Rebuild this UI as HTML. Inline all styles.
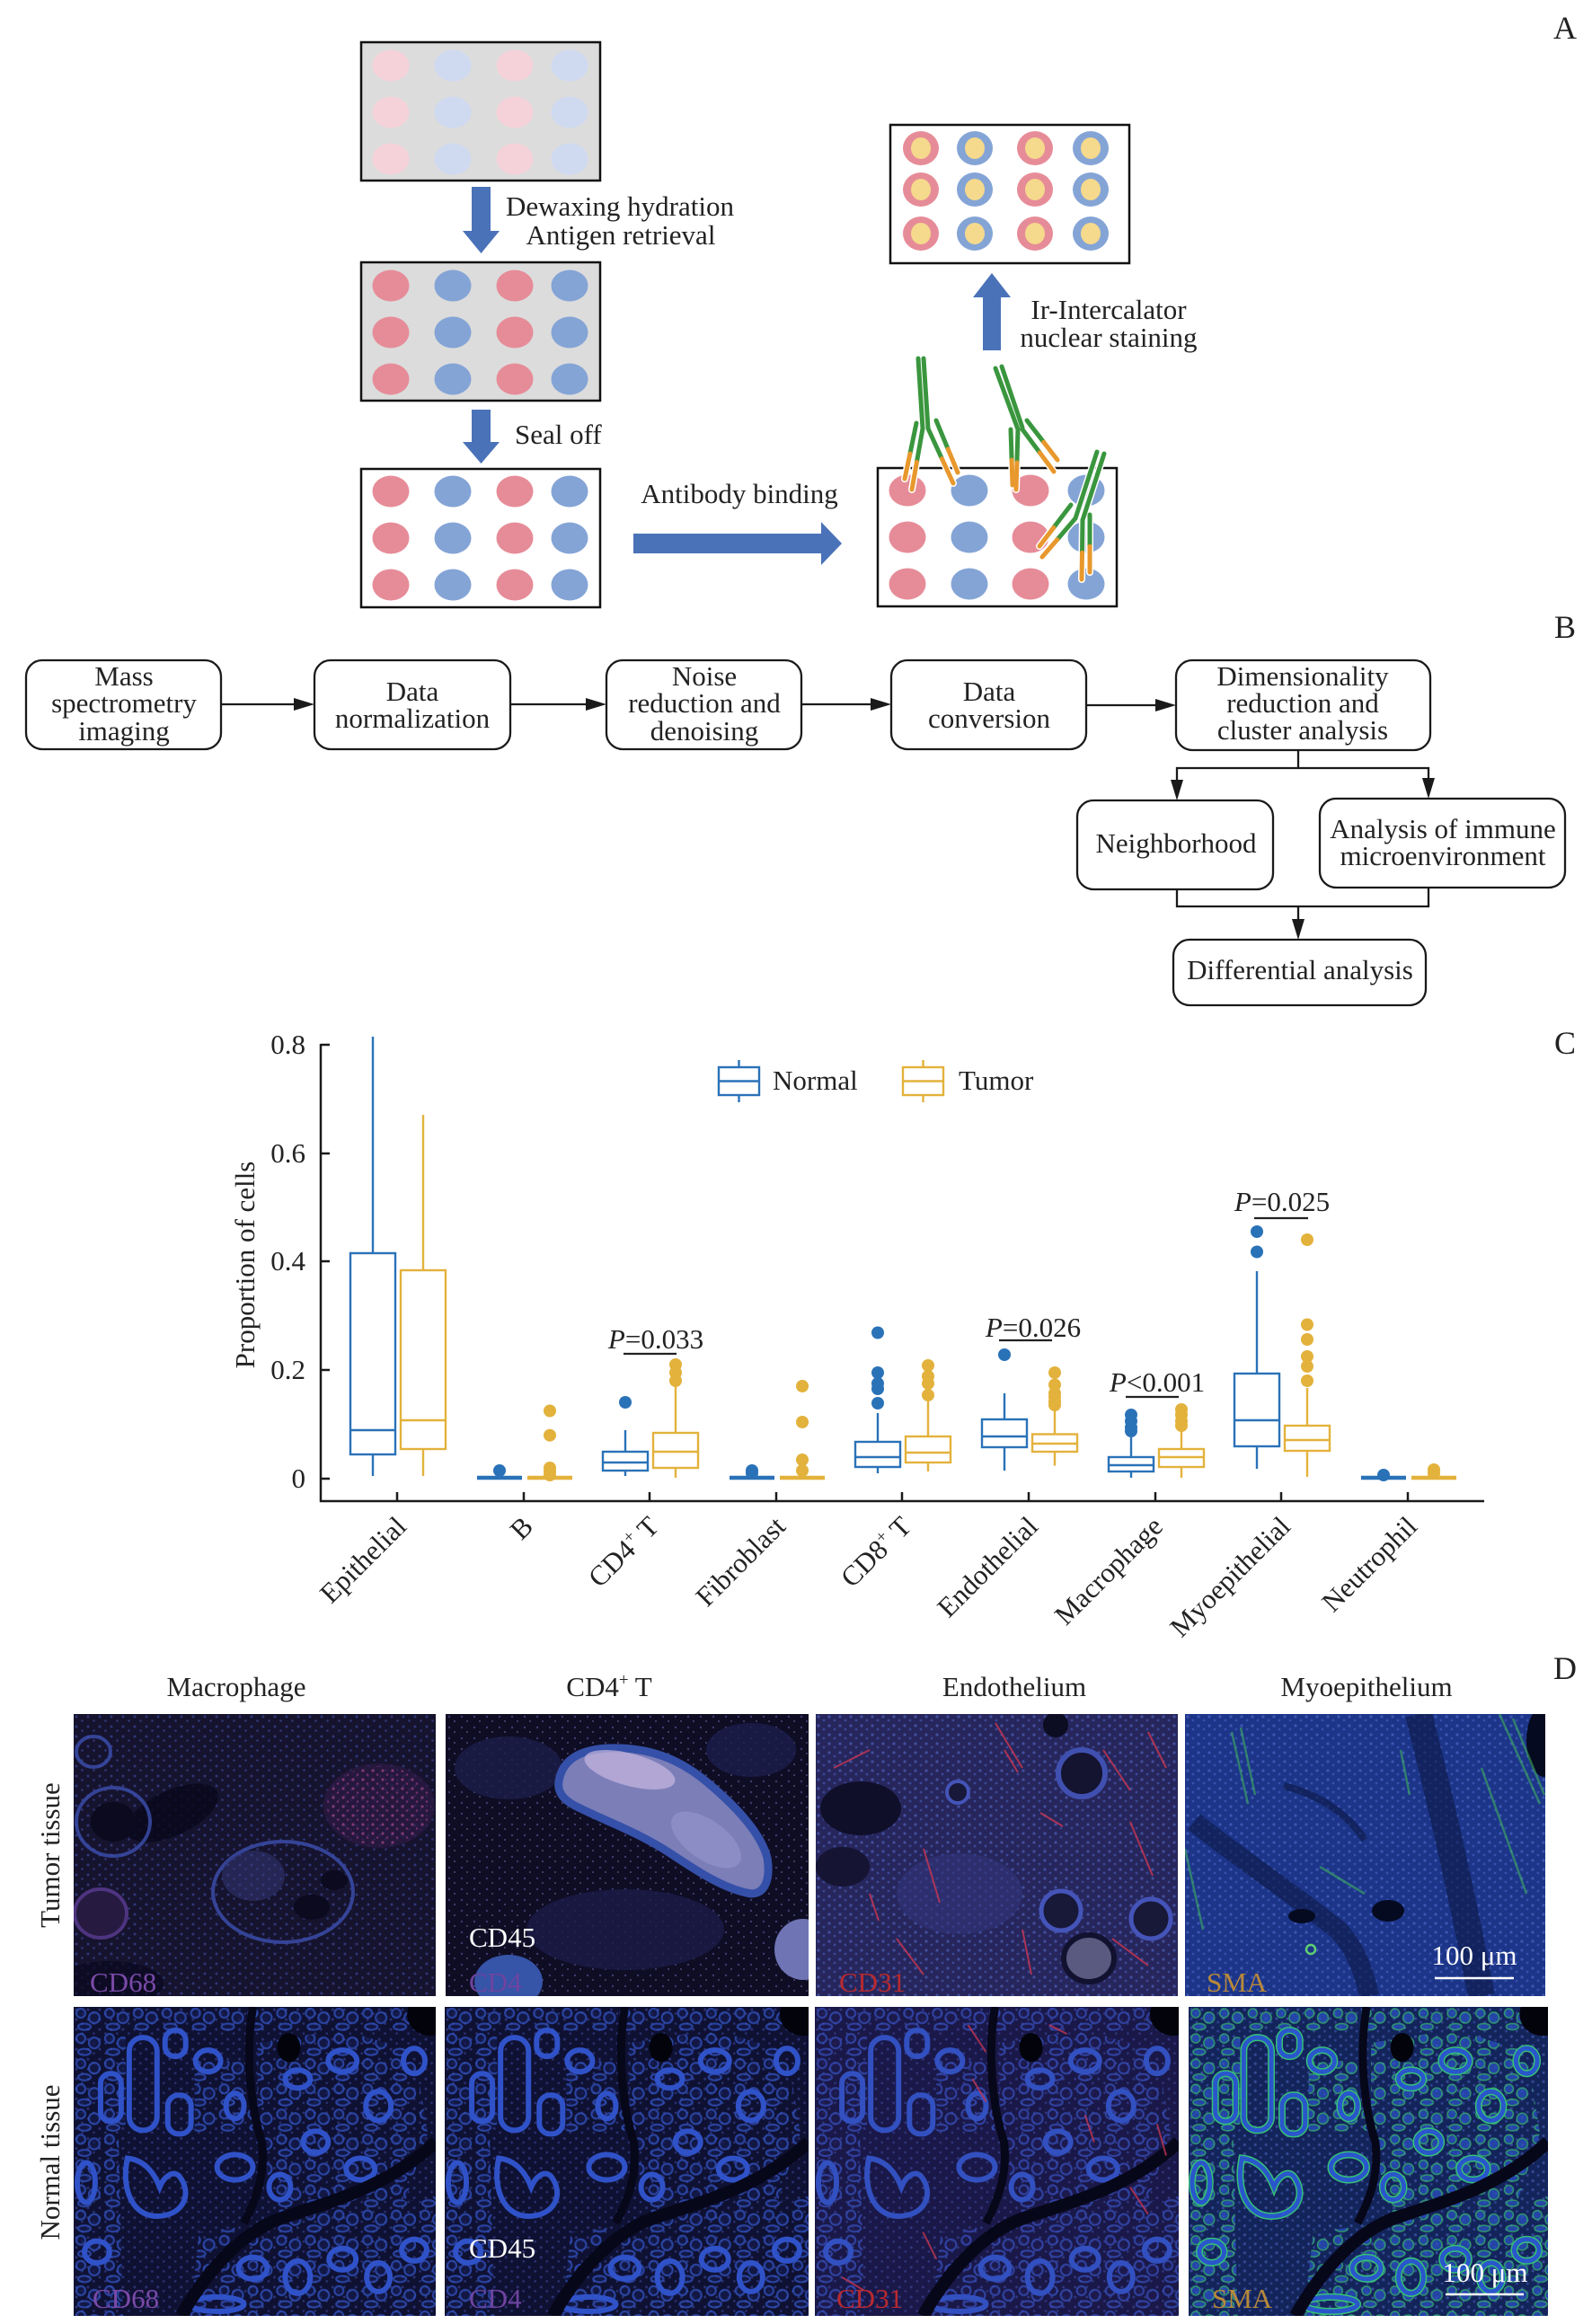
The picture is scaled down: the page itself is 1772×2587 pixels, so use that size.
<!DOCTYPE html>
<html><head><meta charset="utf-8">
<style>
html,body{margin:0;padding:0;background:#fff;}
svg{display:block;}
text{font-family:"Liberation Serif","Times New Roman",serif;}
</style></head>
<body>
<svg xmlns="http://www.w3.org/2000/svg" xmlns:xlink="http://www.w3.org/1999/xlink" width="1772" height="2587" viewBox="0 0 1772 2587">
<defs>
  <pattern id="spkB" width="13" height="11" patternUnits="userSpaceOnUse">
    <circle cx="3" cy="3" r="1.5" fill="#4a5ac0"/><circle cx="9.5" cy="7.5" r="1.3" fill="#4a5ac0"/>
  </pattern>
  <pattern id="spkP" width="11" height="10" patternUnits="userSpaceOnUse">
    <circle cx="3" cy="3" r="1.6" fill="#9a4488"/><circle cx="8" cy="7.5" r="1.3" fill="#88397c"/>
  </pattern>
  <pattern id="spkL" width="12" height="10" patternUnits="userSpaceOnUse">
    <circle cx="3" cy="3" r="1.6" fill="#5d78de"/><circle cx="9" cy="7" r="1.4" fill="#4f6ad0"/>
  </pattern>
  <pattern id="spkW" width="14" height="12" patternUnits="userSpaceOnUse">
    <circle cx="4" cy="3" r="1.2" fill="#6a6ab8"/><circle cx="10" cy="8" r="1" fill="#8c86c8"/>
  </pattern>
  <pattern id="glB" width="32" height="28" patternUnits="userSpaceOnUse">
    <g fill="#141a4c" stroke="#3558cc" stroke-width="2.2">
      <circle cx="8" cy="7" r="5"/><circle cx="23" cy="12" r="6"/><ellipse cx="12" cy="22" rx="7" ry="3.5"/>
    </g>
  </pattern>
  <pattern id="glP" width="32" height="28" patternUnits="userSpaceOnUse">
    <g fill="#1e1a4e" stroke="#3852c2" stroke-width="2.2">
      <circle cx="8" cy="7" r="5"/><circle cx="23" cy="12" r="6"/><ellipse cx="12" cy="22" rx="7" ry="3.5"/>
    </g>
  </pattern>
  <pattern id="glG" width="32" height="28" patternUnits="userSpaceOnUse">
    <g fill="#2a50c0" stroke="#38b878" stroke-width="1.6">
      <circle cx="8" cy="7" r="5"/><circle cx="23" cy="12" r="6"/><ellipse cx="12" cy="22" rx="7" ry="3.5"/>
    </g>
  </pattern>

  <g id="ngp" stroke="none">
    <polygon points="205,40 300,25 380,50 395,140 370,215 300,240 230,230 205,150"/>
    <polygon points="140,250 260,235 404,210 404,343 130,343"/>
    <polygon points="0,140 50,140 55,343 0,343"/>
    <polygon points="0,0 404,0 404,28 0,28"/>
    <polygon points="0,20 58,20 58,140 0,140"/>
    <polygon points="135,60 200,60 200,140 135,140"/>
  </g>
  <g id="ngr" fill="none">
    <rect x="62" y="34" width="31" height="103" rx="15"/>
    <rect x="30" y="74" width="23" height="53" rx="11"/>
    <rect x="105" y="98" width="26" height="43" rx="12"/>
    <rect x="102" y="26" width="23" height="29" rx="11"/>
    <path d="M60,168 C52,205 68,236 98,232 C124,229 132,206 118,188 C110,180 100,190 96,200 C90,185 80,170 60,168Z"/>
    <ellipse cx="180" cy="178" rx="20" ry="14"/>
    <ellipse cx="14" cy="195" rx="10" ry="22"/>
    <ellipse cx="26" cy="272" rx="14" ry="12"/>
    <ellipse cx="200" cy="290" rx="16" ry="12"/>
    <ellipse cx="250" cy="300" rx="14" ry="18"/>
    <ellipse cx="300" cy="280" rx="15" ry="12"/>
    <ellipse cx="340" cy="300" rx="13" ry="16"/>
    <ellipse cx="380" cy="270" rx="14" ry="12"/>
    <ellipse cx="160" cy="330" rx="30" ry="8"/>
    <ellipse cx="250" cy="80" rx="14" ry="10"/>
    <ellipse cx="300" cy="60" rx="16" ry="12"/>
    <ellipse cx="340" cy="110" rx="14" ry="16"/>
    <ellipse cx="270" cy="150" rx="14" ry="12"/>
    <ellipse cx="320" cy="180" rx="16" ry="12"/>
    <ellipse cx="230" cy="200" rx="12" ry="14"/>
    <ellipse cx="380" cy="60" rx="12" ry="14"/>
    <ellipse cx="150" cy="60" rx="14" ry="12"/>
    <ellipse cx="180" cy="110" rx="10" ry="14"/>
  </g>
  <g id="ngd" fill="none" stroke="#07071a">
    <path d="M120,343 C150,290 190,250 230,235 C290,215 350,200 404,150" stroke-width="14"/>
    <path d="M200,0 C190,60 200,120 210,150 C215,190 200,220 190,240" stroke-width="9"/>
    <ellipse cx="240" cy="45" rx="13" ry="16" fill="#03030c" stroke="none"/>
    <ellipse cx="398" cy="8" rx="26" ry="24" fill="#03030c" stroke="none"/>
  </g>
</defs>

<rect width="1772" height="2587" fill="#fff"/>

<!-- ================= PANEL A ================= -->
<text x="1742" y="43" font-size="36" text-anchor="middle" fill="#222">A</text>

<rect x="402" y="47" width="266" height="154" fill="#dcdcdc" stroke="#111" stroke-width="2.5"/>
<g>
  <ellipse cx="435" cy="73" rx="20.5" ry="17.5" fill="#f5d2da"/><ellipse cx="504" cy="73" rx="20.5" ry="17.5" fill="#cfdaf1"/><ellipse cx="573" cy="73" rx="20.5" ry="17.5" fill="#f5d2da"/><ellipse cx="634" cy="73" rx="20.5" ry="17.5" fill="#cfdaf1"/>
  <ellipse cx="435" cy="125" rx="20.5" ry="17.5" fill="#f5d2da"/><ellipse cx="504" cy="125" rx="20.5" ry="17.5" fill="#cfdaf1"/><ellipse cx="573" cy="125" rx="20.5" ry="17.5" fill="#f5d2da"/><ellipse cx="634" cy="125" rx="20.5" ry="17.5" fill="#cfdaf1"/>
  <ellipse cx="435" cy="177" rx="20.5" ry="17.5" fill="#f5d2da"/><ellipse cx="504" cy="177" rx="20.5" ry="17.5" fill="#cfdaf1"/><ellipse cx="573" cy="177" rx="20.5" ry="17.5" fill="#f5d2da"/><ellipse cx="634" cy="177" rx="20.5" ry="17.5" fill="#cfdaf1"/>
</g>
<rect x="525" y="208" width="21" height="50" fill="#4a72b8"/>
<polygon points="515,257 556,257 535.5,282" fill="#4a72b8"/>
<text x="690" y="240" font-size="31" text-anchor="middle" fill="#222">Dewaxing hydration</text>
<text x="691" y="272" font-size="31" text-anchor="middle" fill="#222">Antigen retrieval</text>

<rect x="402" y="292" width="266" height="154" fill="#dcdcdc" stroke="#111" stroke-width="2.5"/>
<g>
  <ellipse cx="435" cy="318" rx="20.5" ry="17.5" fill="#e68c98"/><ellipse cx="504" cy="318" rx="20.5" ry="17.5" fill="#84a4d6"/><ellipse cx="573" cy="318" rx="20.5" ry="17.5" fill="#e68c98"/><ellipse cx="634" cy="318" rx="20.5" ry="17.5" fill="#84a4d6"/>
  <ellipse cx="435" cy="370" rx="20.5" ry="17.5" fill="#e68c98"/><ellipse cx="504" cy="370" rx="20.5" ry="17.5" fill="#84a4d6"/><ellipse cx="573" cy="370" rx="20.5" ry="17.5" fill="#e68c98"/><ellipse cx="634" cy="370" rx="20.5" ry="17.5" fill="#84a4d6"/>
  <ellipse cx="435" cy="422" rx="20.5" ry="17.5" fill="#e68c98"/><ellipse cx="504" cy="422" rx="20.5" ry="17.5" fill="#84a4d6"/><ellipse cx="573" cy="422" rx="20.5" ry="17.5" fill="#e68c98"/><ellipse cx="634" cy="422" rx="20.5" ry="17.5" fill="#84a4d6"/>
</g>
<rect x="525" y="456" width="21" height="37" fill="#4a72b8"/>
<polygon points="515,492 556,492 535.5,516" fill="#4a72b8"/>
<text x="573" y="494" font-size="31" fill="#222">Seal off</text>

<rect x="402" y="522" width="266" height="154" fill="#fff" stroke="#111" stroke-width="2.5"/>
<g>
  <ellipse cx="435" cy="547" rx="20.5" ry="17.5" fill="#e68c98"/><ellipse cx="504" cy="547" rx="20.5" ry="17.5" fill="#84a4d6"/><ellipse cx="573" cy="547" rx="20.5" ry="17.5" fill="#e68c98"/><ellipse cx="634" cy="547" rx="20.5" ry="17.5" fill="#84a4d6"/>
  <ellipse cx="435" cy="599" rx="20.5" ry="17.5" fill="#e68c98"/><ellipse cx="504" cy="599" rx="20.5" ry="17.5" fill="#84a4d6"/><ellipse cx="573" cy="599" rx="20.5" ry="17.5" fill="#e68c98"/><ellipse cx="634" cy="599" rx="20.5" ry="17.5" fill="#84a4d6"/>
  <ellipse cx="435" cy="651" rx="20.5" ry="17.5" fill="#e68c98"/><ellipse cx="504" cy="651" rx="20.5" ry="17.5" fill="#84a4d6"/><ellipse cx="573" cy="651" rx="20.5" ry="17.5" fill="#e68c98"/><ellipse cx="634" cy="651" rx="20.5" ry="17.5" fill="#84a4d6"/>
</g>
<text x="823" y="560" font-size="31" text-anchor="middle" fill="#222">Antibody binding</text>
<rect x="705" y="594" width="213" height="22" fill="#4a72b8"/>
<polygon points="914,581 914,629 937,605" fill="#4a72b8"/>

<rect x="977" y="521" width="266" height="154" fill="#fff" stroke="#111" stroke-width="2.5"/>
<g>
  <ellipse cx="1010" cy="546" rx="20.5" ry="17.5" fill="#e68c98"/><ellipse cx="1079" cy="546" rx="20.5" ry="17.5" fill="#84a4d6"/><ellipse cx="1147" cy="546" rx="20.5" ry="17.5" fill="#e68c98"/><ellipse cx="1209" cy="546" rx="20.5" ry="17.5" fill="#84a4d6"/>
  <ellipse cx="1010" cy="598" rx="20.5" ry="17.5" fill="#e68c98"/><ellipse cx="1079" cy="598" rx="20.5" ry="17.5" fill="#84a4d6"/><ellipse cx="1147" cy="598" rx="20.5" ry="17.5" fill="#e68c98"/><ellipse cx="1209" cy="598" rx="20.5" ry="17.5" fill="#84a4d6"/>
  <ellipse cx="1010" cy="650" rx="20.5" ry="17.5" fill="#e68c98"/><ellipse cx="1079" cy="650" rx="20.5" ry="17.5" fill="#84a4d6"/><ellipse cx="1147" cy="650" rx="20.5" ry="17.5" fill="#e68c98"/><ellipse cx="1209" cy="650" rx="20.5" ry="17.5" fill="#84a4d6"/>
</g>
<g stroke-linecap="round" fill="none">
  <g stroke="#fff" stroke-width="8">
    <line x1="1022" y1="399" x2="1027" y2="477"/><line x1="1028" y1="399" x2="1033" y2="477"/>
    <line x1="1027" y1="477" x2="1015" y2="545"/><line x1="1033" y1="477" x2="1061" y2="538"/>
    <line x1="1020" y1="471" x2="1007" y2="533"/><line x1="1042" y1="468" x2="1066" y2="526"/>
    <line x1="1108" y1="410" x2="1133" y2="478"/><line x1="1115" y1="408" x2="1138" y2="476"/>
    <line x1="1133" y1="478" x2="1131" y2="545"/><line x1="1138" y1="478" x2="1173" y2="525"/>
    <line x1="1125" y1="478" x2="1127" y2="540"/><line x1="1143" y1="468" x2="1177" y2="512"/>
    <line x1="1221" y1="503" x2="1197" y2="577"/><line x1="1229" y1="505" x2="1205" y2="579"/>
    <line x1="1197" y1="577" x2="1160" y2="620"/><line x1="1192" y1="562" x2="1157" y2="608"/>
    <line x1="1205" y1="579" x2="1204" y2="645"/><line x1="1213" y1="573" x2="1213" y2="637"/>
  </g>
  <g stroke="#3a963e" stroke-width="5">
    <line x1="1022" y1="399" x2="1027" y2="477"/><line x1="1028" y1="399" x2="1033" y2="477"/>
    <line x1="1027" y1="477" x2="1020.4" y2="514.4"/><line x1="1033" y1="477" x2="1048.4" y2="510.6"/>
    <line x1="1020" y1="471" x2="1012.9" y2="505.1"/><line x1="1042" y1="468" x2="1055.2" y2="499.9"/>
    <line x1="1108" y1="410" x2="1133" y2="478"/><line x1="1115" y1="408" x2="1138" y2="476"/>
    <line x1="1133" y1="478" x2="1131.9" y2="514.9"/><line x1="1138" y1="478" x2="1157.3" y2="503.9"/>
    <line x1="1125" y1="478" x2="1126.1" y2="512.1"/><line x1="1143" y1="468" x2="1161.7" y2="492.2"/>
    <line x1="1221" y1="503" x2="1197" y2="577"/><line x1="1229" y1="505" x2="1205" y2="579"/>
    <line x1="1197" y1="577" x2="1176.7" y2="600.7"/><line x1="1192" y1="562" x2="1172.8" y2="587.3"/>
    <line x1="1205" y1="579" x2="1204.5" y2="615.3"/><line x1="1213" y1="573" x2="1213" y2="608.2"/>
  </g>
  <g stroke="#e8982c" stroke-width="5">
    <line x1="1020.4" y1="514.4" x2="1015" y2="545"/><line x1="1048.4" y1="510.6" x2="1061" y2="538"/>
    <line x1="1012.9" y1="505.1" x2="1007" y2="533"/><line x1="1055.2" y1="499.9" x2="1066" y2="526"/>
    <line x1="1131.9" y1="514.9" x2="1131" y2="545"/><line x1="1157.3" y1="503.9" x2="1173" y2="525"/>
    <line x1="1126.1" y1="512.1" x2="1127" y2="540"/><line x1="1161.7" y1="492.2" x2="1177" y2="512"/>
    <line x1="1176.7" y1="600.7" x2="1160" y2="620"/><line x1="1172.8" y1="587.3" x2="1157" y2="608"/>
    <line x1="1204.5" y1="615.3" x2="1204" y2="645"/><line x1="1213" y1="608.2" x2="1213" y2="637"/>
  </g>
</g>

<rect x="1094" y="330" width="20" height="60" fill="#4a72b8"/>
<polygon points="1083,331 1125,331 1104,304" fill="#4a72b8"/>
<text x="1234" y="355" font-size="31" text-anchor="middle" fill="#222">Ir-Intercalator</text>
<text x="1234" y="386" font-size="31" text-anchor="middle" fill="#222">nuclear staining</text>

<rect x="991" y="139" width="266" height="154" fill="#fff" stroke="#111" stroke-width="2.5"/>
<g>
  <g fill="#e68c98"><ellipse cx="1025" cy="165" rx="20" ry="19"/><ellipse cx="1152" cy="165" rx="20" ry="19"/><ellipse cx="1025" cy="211" rx="20" ry="19"/><ellipse cx="1152" cy="211" rx="20" ry="19"/><ellipse cx="1025" cy="260" rx="20" ry="19"/><ellipse cx="1152" cy="260" rx="20" ry="19"/></g>
  <g fill="#84a4d6"><ellipse cx="1085" cy="165" rx="20" ry="19"/><ellipse cx="1214" cy="165" rx="20" ry="19"/><ellipse cx="1085" cy="211" rx="20" ry="19"/><ellipse cx="1214" cy="211" rx="20" ry="19"/><ellipse cx="1085" cy="260" rx="20" ry="19"/><ellipse cx="1214" cy="260" rx="20" ry="19"/></g>
  <g fill="#f5d98c"><ellipse cx="1025" cy="165" rx="11" ry="12"/><ellipse cx="1085" cy="165" rx="11" ry="12"/><ellipse cx="1152" cy="165" rx="11" ry="12"/><ellipse cx="1214" cy="165" rx="11" ry="12"/>
  <ellipse cx="1025" cy="211" rx="11" ry="12"/><ellipse cx="1085" cy="211" rx="11" ry="12"/><ellipse cx="1152" cy="211" rx="11" ry="12"/><ellipse cx="1214" cy="211" rx="11" ry="12"/>
  <ellipse cx="1025" cy="260" rx="11" ry="12"/><ellipse cx="1085" cy="260" rx="11" ry="12"/><ellipse cx="1152" cy="260" rx="11" ry="12"/><ellipse cx="1214" cy="260" rx="11" ry="12"/></g>
</g>

<!-- ================= PANEL B ================= -->
<text x="1742" y="710" font-size="36" text-anchor="middle" fill="#222">B</text>
<g fill="#fff" stroke="#1a1a1a" stroke-width="2.3">
  <rect x="29" y="735" width="217" height="99" rx="18"/>
  <rect x="350" y="735" width="218" height="99" rx="18"/>
  <rect x="675" y="735" width="217" height="99" rx="18"/>
  <rect x="992" y="735" width="217" height="99" rx="18"/>
  <rect x="1309" y="735" width="283" height="100" rx="18"/>
  <rect x="1199" y="891" width="218" height="99" rx="18"/>
  <rect x="1469" y="889" width="273" height="99" rx="18"/>
  <rect x="1306" y="1046" width="281" height="73" rx="18"/>
</g>
<g stroke="#1a1a1a" stroke-width="2.3" fill="none">
  <line x1="246" y1="784" x2="330" y2="784"/>
  <line x1="568" y1="784" x2="654" y2="784"/>
  <line x1="892" y1="784" x2="971" y2="784"/>
  <line x1="1209" y1="785" x2="1288" y2="785"/>
  <polyline points="1445,835 1445,855"/>
  <polyline points="1310,869 1310,855 1590,855 1590,869"/>
  <polyline points="1310,990 1310,1009 1590,1009 1590,988"/>
  <line x1="1445" y1="1009" x2="1445" y2="1025"/>
</g>
<g fill="#1a1a1a">
  <polygon points="327,777 350,784 327,791"/>
  <polygon points="652,777 675,784 652,791"/>
  <polygon points="969,777 992,784 969,791"/>
  <polygon points="1286,778 1309,785 1286,792"/>
  <polygon points="1303,868 1317,868 1310,891"/>
  <polygon points="1583,866 1597,866 1590,889"/>
  <polygon points="1438,1023 1452,1023 1445,1046"/>
</g>
<g font-size="31" fill="#222" text-anchor="middle">
  <text x="138" y="763">Mass</text>
  <text x="138" y="793">spectrometry</text>
  <text x="138" y="824">imaging</text>
  <text x="459" y="780">Data</text>
  <text x="459" y="810">normalization</text>
  <text x="784" y="763">Noise</text>
  <text x="784" y="793">reduction and</text>
  <text x="784" y="824">denoising</text>
  <text x="1101" y="780">Data</text>
  <text x="1101" y="810">conversion</text>
  <text x="1450" y="763">Dimensionality</text>
  <text x="1450" y="793">reduction and</text>
  <text x="1450" y="823">cluster analysis</text>
  <text x="1309" y="949">Neighborhood</text>
  <text x="1606" y="933">Analysis of immune</text>
  <text x="1606" y="963">microenvironment</text>
  <text x="1447" y="1090">Differential analysis</text>
</g>

<!-- ================= PANEL C ================= -->
<text x="1742" y="1173" font-size="36" text-anchor="middle" fill="#222">C</text>
<g stroke="#1a1a1a" stroke-width="2.5" fill="none">
  <line x1="357" y1="1162" x2="357" y2="1672"/>
  <line x1="356" y1="1671" x2="1652" y2="1671"/>
  <line x1="357" y1="1163" x2="367" y2="1163"/>
  <line x1="357" y1="1284" x2="367" y2="1284"/>
  <line x1="357" y1="1404" x2="367" y2="1404"/>
  <line x1="357" y1="1525" x2="367" y2="1525"/>
  <line x1="357" y1="1646" x2="367" y2="1646"/>
  <line x1="442" y1="1661" x2="442" y2="1671"/>
  <line x1="583" y1="1661" x2="583" y2="1671"/>
  <line x1="723" y1="1661" x2="723" y2="1671"/>
  <line x1="864" y1="1661" x2="864" y2="1671"/>
  <line x1="1004" y1="1661" x2="1004" y2="1671"/>
  <line x1="1145" y1="1661" x2="1145" y2="1671"/>
  <line x1="1286" y1="1661" x2="1286" y2="1671"/>
  <line x1="1426" y1="1661" x2="1426" y2="1671"/>
  <line x1="1567" y1="1661" x2="1567" y2="1671"/>
</g>
<g font-size="31" fill="#222" text-anchor="end">
  <text x="340" y="1173">0.8</text>
  <text x="340" y="1294">0.6</text>
  <text x="340" y="1414">0.4</text>
  <text x="340" y="1535">0.2</text>
  <text x="340" y="1656">0</text>
</g>
<text transform="translate(283,1408) rotate(-90)" font-size="31" text-anchor="middle" fill="#222">Proportion of cells</text>

<g stroke="#2a72b8" stroke-width="2.4" fill="none">
  <line x1="415" y1="1154" x2="415" y2="1395"/><rect x="390" y="1395" width="50" height="224"/><line x1="390" y1="1592" x2="440" y2="1592"/><line x1="415" y1="1619" x2="415" y2="1643"/>
  <line x1="531" y1="1645" x2="581" y2="1645" stroke-width="4.5"/>
  <line x1="696" y1="1592" x2="696" y2="1616"/><rect x="671" y="1616" width="50" height="21"/><line x1="671" y1="1628" x2="721" y2="1628"/><line x1="696" y1="1637" x2="696" y2="1643"/>
  <line x1="812" y1="1645" x2="862" y2="1645" stroke-width="4.5"/>
  <line x1="977" y1="1573" x2="977" y2="1605"/><rect x="952" y="1605" width="50" height="28"/><line x1="952" y1="1622" x2="1002" y2="1622"/><line x1="977" y1="1633" x2="977" y2="1640"/>
  <line x1="1118" y1="1551" x2="1118" y2="1580"/><rect x="1093" y="1580" width="50" height="31"/><line x1="1093" y1="1599" x2="1143" y2="1599"/><line x1="1118" y1="1611" x2="1118" y2="1637"/>
  <line x1="1259" y1="1600" x2="1259" y2="1622"/><rect x="1234" y="1622" width="50" height="16"/><line x1="1234" y1="1631" x2="1284" y2="1631"/><line x1="1259" y1="1638" x2="1259" y2="1645"/>
  <line x1="1399" y1="1415" x2="1399" y2="1529"/><rect x="1374" y="1529" width="50" height="81"/><line x1="1374" y1="1581" x2="1424" y2="1581"/><line x1="1399" y1="1610" x2="1399" y2="1635"/>
  <line x1="1515" y1="1645" x2="1565" y2="1645" stroke-width="4.5"/>
</g>
<g fill="#2a72b8">
  <circle cx="556" cy="1637" r="7"/>
  <circle cx="696" cy="1561" r="7"/>
  <circle cx="837" cy="1640" r="7"/><circle cx="837" cy="1637" r="7"/>
  <circle cx="977" cy="1562" r="7"/><circle cx="977" cy="1546" r="7"/><circle cx="977" cy="1540" r="7"/><circle cx="977" cy="1528" r="7"/><circle cx="977" cy="1483.5" r="7"/>
  <circle cx="1118" cy="1508" r="7"/>
  <circle cx="1259" cy="1593" r="7"/><circle cx="1259" cy="1589" r="7"/><circle cx="1259" cy="1582" r="7"/><circle cx="1259" cy="1575" r="7"/>
  <circle cx="1399" cy="1393.5" r="7"/><circle cx="1399" cy="1371" r="7"/>
  <circle cx="1540" cy="1642" r="7"/>
</g>

<g stroke="#e3b23c" stroke-width="2.4" fill="none">
  <line x1="471" y1="1241" x2="471" y2="1414"/><rect x="446" y="1414" width="50" height="199"/><line x1="446" y1="1581" x2="496" y2="1581"/><line x1="471" y1="1613" x2="471" y2="1643"/>
  <line x1="587" y1="1645" x2="637" y2="1645" stroke-width="4.5"/>
  <line x1="752" y1="1543" x2="752" y2="1595"/><rect x="727" y="1595" width="50" height="39"/><line x1="727" y1="1616" x2="777" y2="1616"/><line x1="752" y1="1634" x2="752" y2="1645"/>
  <line x1="868" y1="1645" x2="918" y2="1645" stroke-width="4.5"/>
  <line x1="1033" y1="1560" x2="1033" y2="1599"/><rect x="1008" y="1599" width="50" height="29"/><line x1="1008" y1="1617" x2="1058" y2="1617"/><line x1="1033" y1="1628" x2="1033" y2="1638"/>
  <line x1="1174" y1="1569" x2="1174" y2="1596.5"/><rect x="1149" y="1596.5" width="50" height="19.5"/><line x1="1149" y1="1607" x2="1199" y2="1607"/><line x1="1174" y1="1616" x2="1174" y2="1631.5"/>
  <line x1="1315" y1="1590" x2="1315" y2="1613"/><rect x="1290" y="1613" width="50" height="20"/><line x1="1290" y1="1622" x2="1340" y2="1622"/><line x1="1315" y1="1633" x2="1315" y2="1645"/>
  <line x1="1455" y1="1545" x2="1455" y2="1587"/><rect x="1430" y="1587" width="50" height="28"/><line x1="1430" y1="1603" x2="1480" y2="1603"/><line x1="1455" y1="1615" x2="1455" y2="1644"/>
  <line x1="1571" y1="1645" x2="1621" y2="1645" stroke-width="4.5"/>
</g>
<g fill="#e3b23c">
  <circle cx="612" cy="1570.5" r="7"/><circle cx="612" cy="1597.7" r="7"/><circle cx="612" cy="1634" r="7"/><circle cx="612" cy="1638" r="7"/><circle cx="612" cy="1642" r="7"/>
  <circle cx="752" cy="1537" r="7"/><circle cx="752" cy="1528" r="7"/><circle cx="752" cy="1519" r="7"/>
  <circle cx="893" cy="1543" r="7"/><circle cx="893" cy="1583" r="7"/><circle cx="893" cy="1625" r="7"/><circle cx="893" cy="1637" r="7"/>
  <circle cx="1033" cy="1553" r="7"/><circle cx="1033" cy="1540" r="7"/><circle cx="1033" cy="1532" r="7"/><circle cx="1033" cy="1520" r="7"/>
  <circle cx="1174" cy="1564" r="7"/><circle cx="1174" cy="1560" r="7"/><circle cx="1174" cy="1555" r="7"/><circle cx="1174" cy="1551" r="7"/><circle cx="1174" cy="1541.5" r="7"/><circle cx="1174" cy="1528" r="7"/>
  <circle cx="1315" cy="1587" r="7"/><circle cx="1315" cy="1582" r="7"/><circle cx="1315" cy="1575" r="7"/><circle cx="1315" cy="1569" r="7"/>
  <circle cx="1455" cy="1537" r="7"/><circle cx="1455" cy="1521" r="7"/><circle cx="1455" cy="1510" r="7"/><circle cx="1455" cy="1491" r="7"/><circle cx="1455" cy="1474.5" r="7"/><circle cx="1455" cy="1380" r="7"/>
  <circle cx="1596" cy="1640" r="7"/><circle cx="1596" cy="1636" r="7"/>
</g>

<g font-size="31" fill="#222" text-anchor="middle">
  <text x="730" y="1501"><tspan font-style="italic">P</tspan>=0.033</text>
  <text x="1150" y="1488"><tspan font-style="italic">P</tspan>=0.026</text>
  <text x="1288" y="1549"><tspan font-style="italic">P</tspan>&lt;0.001</text>
  <text x="1427" y="1348"><tspan font-style="italic">P</tspan>=0.025</text>
</g>
<g stroke="#222" stroke-width="2.2">
  <line x1="694" y1="1507" x2="753" y2="1507"/>
  <line x1="1112" y1="1492" x2="1171" y2="1492"/>
  <line x1="1253" y1="1555" x2="1312" y2="1555"/>
  <line x1="1396" y1="1356" x2="1456" y2="1356"/>
</g>

<g stroke="#2a72b8" stroke-width="2.4" fill="none">
  <rect x="800" y="1188" width="45" height="31"/><line x1="800" y1="1203.5" x2="845" y2="1203.5"/>
  <line x1="822.5" y1="1180" x2="822.5" y2="1188"/><line x1="822.5" y1="1219" x2="822.5" y2="1227"/>
</g>
<g stroke="#e3b23c" stroke-width="2.4" fill="none">
  <rect x="1005" y="1188" width="45" height="31"/><line x1="1005" y1="1203.5" x2="1050" y2="1203.5"/>
  <line x1="1027.5" y1="1180" x2="1027.5" y2="1188"/><line x1="1027.5" y1="1219" x2="1027.5" y2="1227"/>
</g>
<text x="860" y="1213" font-size="31" fill="#222">Normal</text>
<text x="1067" y="1213" font-size="31" fill="#222">Tumor</text>

<g font-size="31" fill="#222" text-anchor="end">
  <text transform="translate(454,1701) rotate(-45)">Epithelial</text>
  <text transform="translate(595,1701) rotate(-45)">B</text>
  <text transform="translate(735,1701) rotate(-45)">CD4<tspan font-size="19" dy="-12">+</tspan><tspan dy="12"> T</tspan></text>
  <text transform="translate(876,1701) rotate(-45)">Fibroblast</text>
  <text transform="translate(1016,1701) rotate(-45)">CD8<tspan font-size="19" dy="-12">+</tspan><tspan dy="12"> T</tspan></text>
  <text transform="translate(1157,1701) rotate(-45)">Endothelial</text>
  <text transform="translate(1296,1701) rotate(-45)">Macrophage</text>
  <text transform="translate(1438,1701) rotate(-45)">Myoepithelial</text>
  <text transform="translate(1579,1701) rotate(-45)">Neutrophil</text>
</g>

<!-- ================= PANEL D ================= -->
<text x="1742" y="1869" font-size="36" text-anchor="middle" fill="#222">D</text>
<g font-size="31" fill="#222" text-anchor="middle">
  <text x="263" y="1888">Macrophage</text>
  <text x="678" y="1888">CD4<tspan font-size="19" dy="-12">+</tspan><tspan dy="12"> T</tspan></text>
  <text x="1129" y="1888">Endothelium</text>
  <text x="1521" y="1888">Myoepithelium</text>
</g>
<text transform="translate(66,2065) rotate(-90)" font-size="31" text-anchor="middle" fill="#222">Tumor tissue</text>
<text transform="translate(66,2407) rotate(-90)" font-size="31" text-anchor="middle" fill="#222">Normal tissue</text>

<!-- T1 Macrophage tumor -->
<svg x="82" y="1908" width="403" height="314" viewBox="0 0 403 314">
  <rect width="403" height="314" fill="#16132e"/>
  <rect width="403" height="314" fill="url(#spkB)" opacity=".5"/>
  <ellipse cx="110" cy="110" rx="55" ry="25" transform="rotate(-25 110 110)" fill="#08071a" opacity=".8"/>
  <ellipse cx="40" cy="300" rx="60" ry="25" fill="#0a0920" opacity=".7"/>
  <ellipse cx="340" cy="102" rx="62" ry="47" fill="#2e1a44" opacity=".7"/>
  <ellipse cx="340" cy="102" rx="58" ry="44" fill="url(#spkP)" opacity=".75"/>
  <g fill="none" stroke="#3a4ca8" stroke-width="4" opacity=".85">
    <ellipse cx="22" cy="42" rx="19" ry="17"/>
    <ellipse cx="44" cy="120" rx="41" ry="38"/>
    <ellipse cx="233" cy="198" rx="78" ry="56"/>
  </g>
  <ellipse cx="200" cy="180" rx="35" ry="28" fill="#34397a" opacity=".5"/>
  <ellipse cx="265" cy="215" rx="20" ry="14" fill="#0b0a1e"/>
  <ellipse cx="290" cy="185" rx="15" ry="11" fill="#0b0a1e"/>
  <ellipse cx="44" cy="120" rx="25" ry="22" fill="#0b0a1e"/>
  <ellipse cx="30" cy="222" rx="29" ry="27" fill="#261a40" stroke="#4e3480" stroke-width="4"/>
</svg>

<!-- T2 CD4 tumor -->
<svg x="496" y="1908" width="404" height="314" viewBox="0 0 404 314">
  <rect width="404" height="314" fill="#0f0d24"/>
  <rect width="404" height="314" fill="url(#spkW)" opacity=".5"/>
  <ellipse cx="70" cy="60" rx="60" ry="35" fill="#1c1e4a" opacity=".8"/>
  <ellipse cx="200" cy="240" rx="110" ry="45" fill="#1a1b48" opacity=".8"/>
  <ellipse cx="340" cy="40" rx="50" ry="30" fill="#1c1e4c" opacity=".8"/>
  <path d="M126,75 C130,50 150,40 180,38 C225,36 260,50 290,75 C320,100 350,130 358,160 C362,185 355,200 340,200 C310,195 280,175 250,155 C215,132 180,120 150,105 C132,97 124,88 126,75 Z" fill="#7c7eb8" stroke="#3550a8" stroke-width="9"/>
  <ellipse cx="205" cy="62" rx="52" ry="18" transform="rotate(15 205 62)" fill="#c8b8e0" opacity=".7"/>
  <ellipse cx="290" cy="140" rx="45" ry="22" transform="rotate(35 290 140)" fill="#9a9cd0" opacity=".5"/>
  <ellipse cx="70" cy="298" rx="38" ry="30" fill="#3654a8"/>
  <ellipse cx="398" cy="262" rx="32" ry="34" fill="#6e74b4"/>
</svg>

<!-- T3 Endothelium tumor -->
<svg x="908" y="1908" width="403" height="314" viewBox="0 0 403 314">
  <rect width="403" height="314" fill="#27265c"/>
  <rect width="403" height="314" fill="url(#spkL)" opacity=".5"/>
  <ellipse cx="50" cy="105" rx="45" ry="30" fill="#100f2a"/>
  <ellipse cx="30" cy="170" rx="30" ry="22" fill="#151433"/>
  <circle cx="296" cy="66" r="26" fill="#141330" stroke="#4050b0" stroke-width="6"/>
  <ellipse cx="304" cy="272" rx="28" ry="26" fill="#5a5a80" stroke="#121230" stroke-width="6"/>
  <circle cx="373" cy="228" r="22" fill="#181838" stroke="#4454b8" stroke-width="5"/>
  <circle cx="273" cy="219" r="22" fill="#181838" stroke="#4454b8" stroke-width="5"/>
  <circle cx="158" cy="87" r="12" fill="#181838" stroke="#4454b8" stroke-width="4"/>
  <circle cx="267" cy="12" r="14" fill="#0c0c22"/>
  <ellipse cx="160" cy="200" rx="70" ry="45" fill="#32337a" opacity=".6"/>
  <g stroke="#c23652" stroke-width="2" fill="none" opacity=".85">
    <path d="M200,10 L230,60"/><path d="M320,40 l30,45"/><path d="M350,120 l25,60"/>
    <path d="M120,150 l18,60"/><path d="M210,40 l15,25"/><path d="M20,60 l40,-20"/>
    <path d="M370,20 l20,40"/><path d="M90,250 l30,40"/><path d="M230,240 l10,50"/>
    <path d="M330,250 l40,30"/><path d="M60,200 l10,30"/><path d="M250,110 l25,15"/>
  </g>
</svg>

<!-- T4 Myoepithelium tumor -->
<svg x="1319" y="1908" width="401" height="314" viewBox="0 0 401 314">
  <rect width="401" height="314" fill="#1c3588"/>
  <rect width="401" height="314" fill="url(#spkL)" opacity=".5"/>
  <g fill="none" stroke="#0c1844" opacity=".6">
    <path d="M10,120 C60,160 120,200 170,240 C190,260 200,290 205,314" stroke-width="22"/>
    <path d="M260,0 C280,80 300,160 330,314" stroke-width="30"/>
    <path d="M110,80 C150,90 180,110 200,140" stroke-width="8"/>
  </g>
  <ellipse cx="226" cy="219" rx="18" ry="12" fill="#050a20"/>
  <ellipse cx="130" cy="225" rx="15" ry="8" fill="#050a20"/>
  <ellipse cx="400" cy="30" rx="20" ry="40" fill="#050a20"/>
  <g stroke="#3fb060" stroke-width="2.5" fill="none" opacity=".6">
    <path d="M52,20 L70,100"/><path d="M62,15 L78,90"/><path d="M350,0 L395,100"/><path d="M365,5 L400,90"/>
    <path d="M330,60 L380,200"/><path d="M240,40 L250,90"/><path d="M0,150 L20,240"/><path d="M150,170 L200,200"/>
  </g>
  <circle cx="140" cy="262" r="5" fill="none" stroke="#5fd070" stroke-width="2.5"/>
</svg>

<!-- Row 2 normal -->
<svg x="82" y="2234" width="403" height="344" viewBox="0 0 404 343" preserveAspectRatio="none">
  <rect width="404" height="343" fill="#0f1133"/>
  <rect width="404" height="343" fill="url(#spkB)" opacity=".45"/>
  <use xlink:href="#ngp" fill="url(#glB)" opacity=".7"/>
  <use xlink:href="#ngr" stroke="#3052c8" stroke-width="6"/>
  <use xlink:href="#ngd"/>
</svg>
<svg x="495" y="2234" width="405" height="344" viewBox="0 0 404 343" preserveAspectRatio="none">
  <rect width="404" height="343" fill="#0f1133"/>
  <rect width="404" height="343" fill="url(#spkB)" opacity=".45"/>
  <use xlink:href="#ngp" fill="url(#glB)" opacity=".7"/>
  <use xlink:href="#ngr" stroke="#3052c8" stroke-width="6"/>
  <use xlink:href="#ngd"/>
</svg>
<svg x="907" y="2234" width="405" height="344" viewBox="0 0 404 343" preserveAspectRatio="none">
  <rect width="404" height="343" fill="#1a1848"/>
  <rect width="404" height="343" fill="url(#spkB)" opacity=".45"/>
  <use xlink:href="#ngp" fill="url(#glP)" opacity=".7"/>
  <use xlink:href="#ngr" stroke="#3250c0" stroke-width="6"/>
  <use xlink:href="#ngd"/>
  <g stroke="#c23652" stroke-width="2" fill="none" opacity=".8">
    <path d="M170,20 l20,30"/><path d="M175,80 l15,25"/><path d="M30,300 l25,15"/><path d="M300,120 l10,30"/>
    <path d="M350,200 l20,30"/><path d="M120,250 l15,30"/><path d="M260,20 l20,10"/><path d="M380,130 l10,35"/>
  </g>
</svg>
<svg x="1323" y="2234" width="400" height="344" viewBox="0 0 404 343" preserveAspectRatio="none">
  <rect width="404" height="343" fill="#13245a"/>
  <rect width="404" height="343" fill="url(#spkL)" opacity=".45"/>
  <use xlink:href="#ngp" fill="url(#glG)" opacity=".75"/>
  <use xlink:href="#ngr" stroke="#36c078" stroke-width="8"/>
  <use xlink:href="#ngr" stroke="#2a56cc" stroke-width="5"/>
  <use xlink:href="#ngd"/>
</svg>

<g font-size="31">
  <text x="100" y="2217" fill="#7a4aa8">CD68</text>
  <text x="522" y="2167" fill="#fff">CD45</text>
  <text x="522" y="2217" fill="#6e44a0">CD4</text>
  <text x="934" y="2217" fill="#b82a30">CD31</text>
  <text x="1343" y="2217" fill="#b8893a">SMA</text>
  <text x="1641" y="2187" fill="#fff" text-anchor="middle">100 μm</text>
  <text x="103" y="2569" fill="#7a4aa8">CD68</text>
  <text x="522" y="2513" fill="#fff">CD45</text>
  <text x="522" y="2569" fill="#6e44a0">CD4</text>
  <text x="931" y="2569" fill="#b82a30">CD31</text>
  <text x="1349" y="2569" fill="#b8893a">SMA</text>
  <text x="1653" y="2540" fill="#fff" text-anchor="middle">100 μm</text>
</g>
<g stroke="#fff" stroke-width="2.5">
  <line x1="1597" y1="2202" x2="1685" y2="2202"/>
  <line x1="1609" y1="2554" x2="1696" y2="2554"/>
</g>
</svg>
</body></html>
